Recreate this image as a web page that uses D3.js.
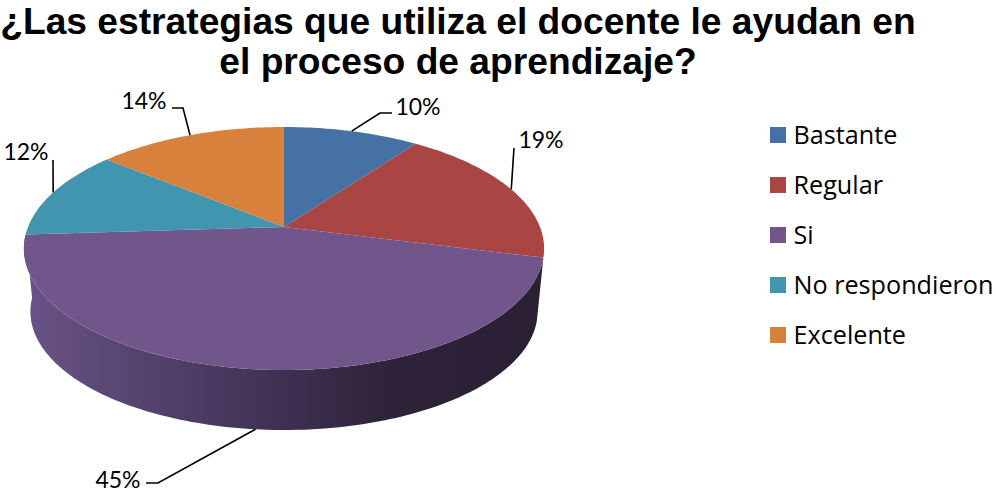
<!DOCTYPE html>
<html>
<head>
<meta charset="utf-8">
<script src="https://cdn.jsdelivr.net/npm/d3@7"></script>
<style>
  html, body { margin: 0; padding: 0; background: #fff; overflow: hidden; }
  text { fill: #000; }
</style>
</head>
<body>
<svg width="996" height="495"></svg>
<script>
var categories = ["Bastante", "Regular", "Si", "No respondieron", "Excelente"];
var values = [10, 19, 45, 12, 14];
var colors = ["#4671a5", "#a94543", "#71568c", "#4195ae", "#d8813c"];
var titleLines = ["¿Las estrategias que utiliza el docente le ayudan en", "el proceso de aprendizaje?"];

var svg = d3.select("svg");

// apex of the pie and the perspective of the disc
var cx = 284, cy = 227,
    rx = 256, ry = 117.7, persp = 0.177,
    sideDrop = 63.6, sideScale = 0.975;

// angle (0 = top, clockwise) to a point on the upper rim
function rim(a) {
  var u = Math.sin(a), v = -Math.cos(a), w = 1 - persp * v;
  return [cx + rx * u / w, cy + ry * v / w];
}

// same for the lower rim of the side wall
function lowerRim(a) {
  var u = Math.sin(a), v = -Math.cos(a), w = 1 - persp * v;
  return [cx + sideScale * rx * u / w, cy + sideDrop + sideScale * ry * v / w];
}

function steps(a0, a1) {
  var n = Math.max(2, Math.ceil(Math.abs(a1 - a0) / 0.02)), out = [];
  for (var i = 0; i <= n; i++) out.push(a0 + (a1 - a0) * i / n);
  return out;
}

var line = d3.line();
var color = d3.scaleOrdinal().domain(categories).range(colors);
var pie = d3.pie().sort(null).value(function(d) { return d.value; });
var arcs = pie(categories.map(function(c, i) { return {name: c, value: values[i]}; }));

// side wall gradient
var grad = svg.append("defs").append("linearGradient")
    .attr("id", "side")
    .attr("gradientUnits", "userSpaceOnUse")
    .attr("x1", 24).attr("x2", 544).attr("y1", 0).attr("y2", 0);
[[0, "#6a5488"], [0.15, "#5c4876"], [0.35, "#4b3b62"], [0.5, "#3f3052"], [0.7, "#2e2338"], [1, "#2a2034"]].forEach(function(s) {
  grad.append("stop").attr("offset", s[0]).attr("stop-color", s[1]);
});

// only the purple slice shows its wall
var front = arcs[2];
var upper = steps(front.startAngle, front.endAngle).map(rim);
var lower = steps(front.endAngle, front.startAngle).map(lowerRim);
svg.append("path")
    .attr("d", line(upper.concat(lower)) + "Z")
    .attr("fill", "url(#side)");

// top face
svg.selectAll("path.slice")
    .data(arcs)
    .enter()
    .append("path")
    .attr("class", "slice")
    .attr("d", function(d) {
      return line([[cx, cy]].concat(steps(d.startAngle, d.endAngle).map(rim))) + "Z";
    })
    .attr("fill", function(d) { return color(d.data.name); });

// data labels, leader goes from the rim through the elbows
var labelBox = [
  {x: 418, y: 115, via: [[380, 113], [392, 113]]},
  {x: 541, y: 148, via: [[514, 148]]},
  {x: 118, y: 488, via: [[158, 483], [146, 483]]},
  {x: 26, y: 160, via: [[53, 160]]},
  {x: 144, y: 109, via: [[183, 108], [172, 108]]}
];

arcs.forEach(function(d, i) {
  var mid = (d.startAngle + d.endAngle) / 2;
  var start = i == 2 ? lowerRim(mid) : rim(mid);
  svg.append("path")
      .attr("d", line([start].concat(labelBox[i].via)))
      .attr("fill", "none")
      .attr("stroke", "#000")
      .attr("stroke-width", 1.6);
  svg.append("text")
      .attr("x", labelBox[i].x)
      .attr("y", labelBox[i].y)
      .attr("text-anchor", "middle")
      .style("font-family", "Lato")
      .style("font-size", "23px")
      .text(d.value + "%");
});

// title
svg.selectAll("text.title")
    .data(titleLines)
    .enter()
    .append("text")
    .attr("class", "title")
    .attr("x", 458)
    .attr("y", function(d, i) { return 34 + i * 40; })
    .attr("text-anchor", "middle")
    .style("font-family", "Liberation Sans")
    .style("font-weight", "bold")
    .style("font-size", "37.2px")
    .text(function(d) { return d; });

// legend
var legendY = d3.scalePoint().domain(categories).range([135, 335]);
var legend = svg.selectAll("g.legend")
    .data(categories)
    .enter()
    .append("g")
    .attr("class", "legend")
    .attr("transform", function(d) { return "translate(770," + legendY(d) + ")"; });

legend.append("rect")
    .attr("x", 0).attr("y", -8)
    .attr("width", 16).attr("height", 16)
    .attr("fill", function(d) { return color(d); });

legend.append("text")
    .attr("x", 23.5).attr("y", 8.5)
    .style("font-family", "Open Sans")
    .style("font-size", "25.2px")
    .text(function(d) { return d; });
</script>
</body>
</html>
